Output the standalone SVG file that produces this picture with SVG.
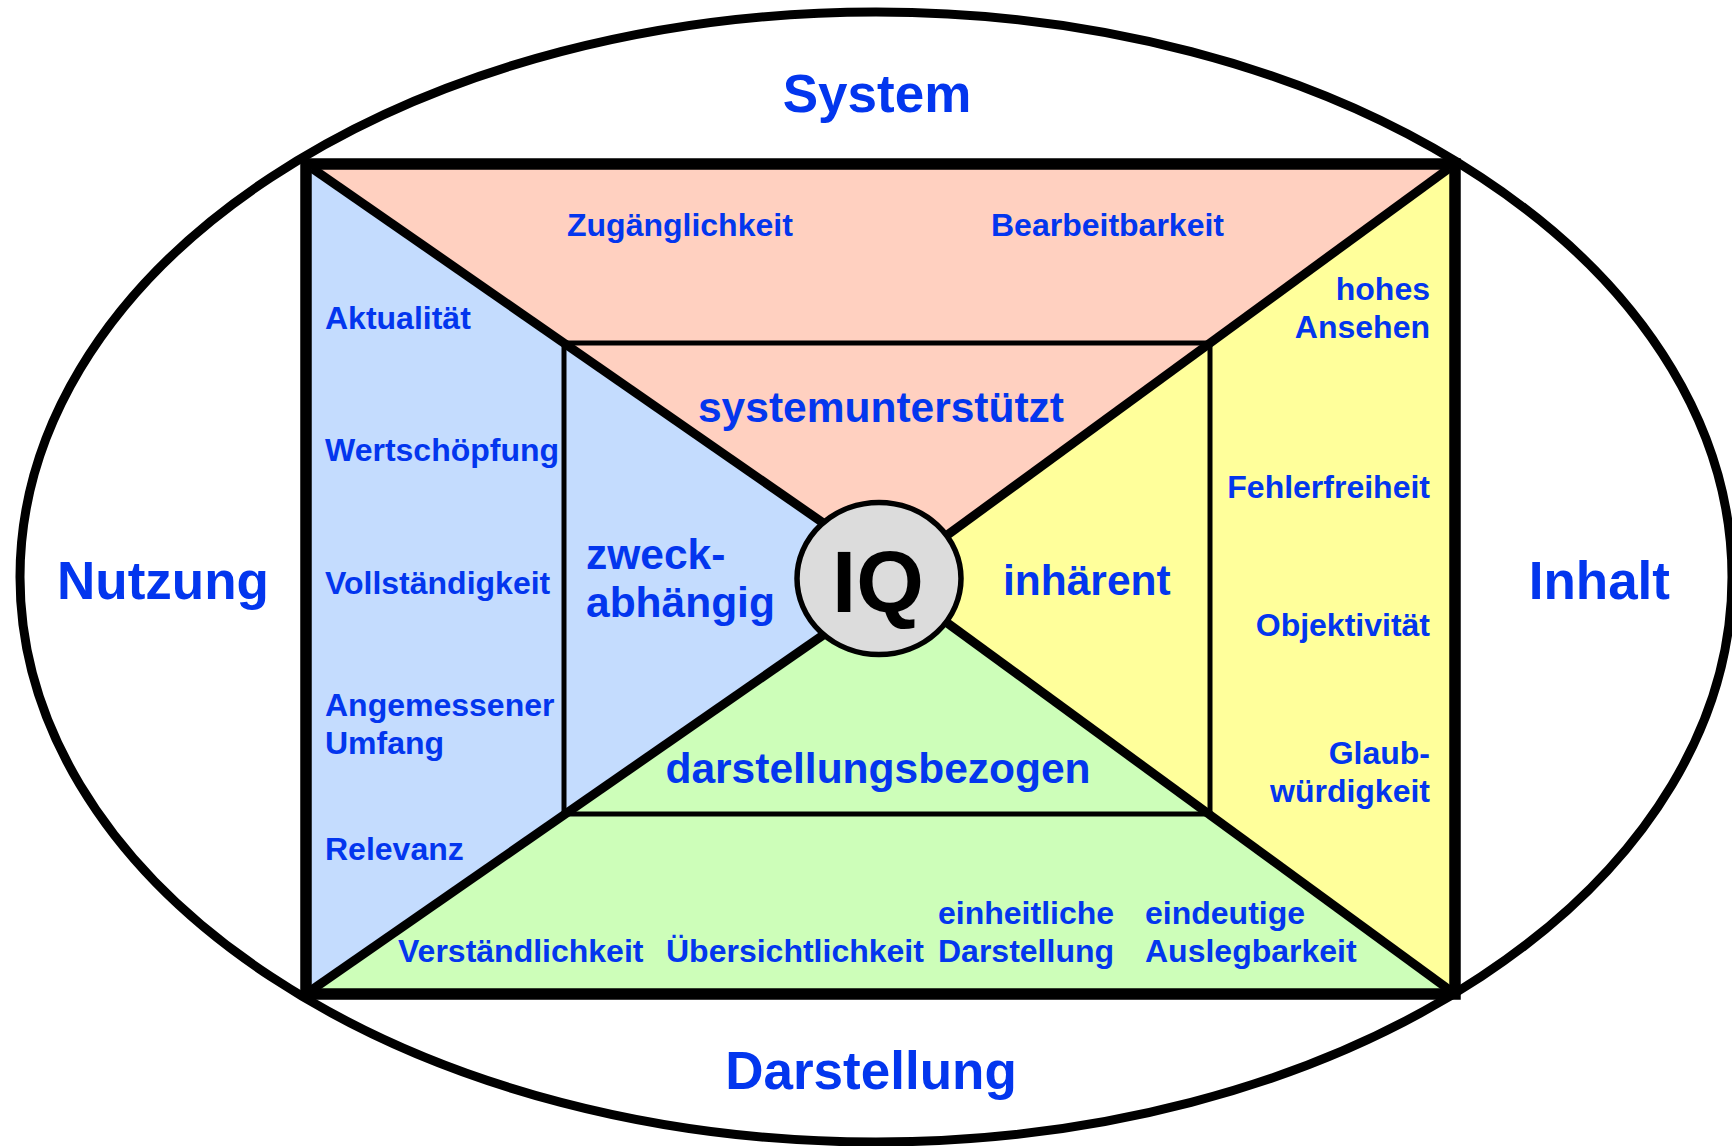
<svg xmlns="http://www.w3.org/2000/svg" width="1732" height="1146" viewBox="0 0 1732 1146">
<style>
text{font-family:"Liberation Sans",Arial,sans-serif;font-weight:bold;fill:#0336ee}
.big{font-size:53px}
.cat{font-size:42.5px}
.sm{font-size:32px}
.end{text-anchor:end}
.mid{text-anchor:middle}
.thick{stroke:#000;stroke-width:9;stroke-linecap:butt;fill:none}
.thin{stroke:#000;stroke-width:5;fill:none}
</style>
<rect width="1732" height="1146" fill="#fff"/>
<g id="outer-ellipse">
<ellipse cx="876" cy="577" rx="856" ry="565" fill="#fff" stroke="#000" stroke-width="9"/>
</g>
<g id="region-system">
<polygon points="306,164 1455,164 895.3,573" fill="#ffd0c0"/>
</g>
<g id="region-nutzung">
<polygon points="306,164 904,579 306,994" fill="#c4dcfe"/>
</g>
<g id="region-inhalt">
<polygon points="1455,164 887,579 1455,994" fill="#ffff9b"/>
</g>
<g id="region-darstellung">
<polygon points="306,994 895.3,585 1455,994" fill="#cdfeb9"/>
</g>
<g id="inner-frame">
<rect x="564" y="343" width="646" height="471" class="thin"/>
</g>
<g id="connectors">
<line x1="312" y1="168.2" x2="895.3" y2="573" class="thick"/>
<line x1="1449" y1="168.4" x2="895.3" y2="573" class="thick"/>
<line x1="312" y1="989.8" x2="895.3" y2="585" class="thick"/>
<line x1="1449" y1="989.6" x2="895.3" y2="585" class="thick"/>
</g>
<g id="outer-frame">
<rect x="306" y="164" width="1149" height="830" fill="none" stroke="#000" stroke-width="11.5"/>
</g>
<g id="node-iq">
<ellipse cx="879" cy="578.5" rx="82" ry="76" fill="#dcdcdc" stroke="#000" stroke-width="5.5"/>
<text x="878" y="612" class="mid" style="font-size:87px;fill:#000">IQ</text>
</g>
<g id="label-system"><text x="877" y="112" class="big mid">System</text></g>
<g id="label-nutzung"><text x="57" y="599" class="big">Nutzung</text></g>
<g id="label-inhalt"><text x="1670" y="599" class="big end">Inhalt</text></g>
<g id="label-darstellung"><text x="871" y="1089" class="big mid">Darstellung</text></g>
<g id="cat-systemunterstuetzt"><text x="881" y="422" class="cat mid">systemunterstützt</text></g>
<g id="cat-zweckabhaengig"><text x="586" y="569" class="cat">zweck-</text><text x="586" y="617" class="cat">abhängig</text></g>
<g id="cat-inhaerent"><text x="1003" y="595" class="cat">inhärent</text></g>
<g id="cat-darstellungsbezogen"><text x="878" y="783" class="cat mid">darstellungsbezogen</text></g>
<g id="item-zugaenglichkeit"><text x="567" y="236" class="sm">Zugänglichkeit</text></g>
<g id="item-bearbeitbarkeit"><text x="991" y="236" class="sm">Bearbeitbarkeit</text></g>
<g id="item-aktualitaet"><text x="325" y="329" class="sm">Aktualität</text></g>
<g id="item-wertschoepfung"><text x="325" y="461" class="sm">Wertschöpfung</text></g>
<g id="item-vollstaendigkeit"><text x="325" y="594" class="sm">Vollständigkeit</text></g>
<g id="item-umfang"><text x="325" y="716" class="sm">Angemessener</text><text x="325" y="754" class="sm">Umfang</text></g>
<g id="item-relevanz"><text x="325" y="860" class="sm">Relevanz</text></g>
<g id="item-ansehen"><text x="1430" y="300" class="sm end">hohes</text><text x="1430" y="338" class="sm end">Ansehen</text></g>
<g id="item-fehlerfreiheit"><text x="1430" y="498" class="sm end">Fehlerfreiheit</text></g>
<g id="item-objektivitaet"><text x="1430" y="636" class="sm end">Objektivität</text></g>
<g id="item-glaubwuerdigkeit"><text x="1430" y="764" class="sm end">Glaub-</text><text x="1430" y="802" class="sm end">würdigkeit</text></g>
<g id="item-verstaendlichkeit"><text x="398" y="962" class="sm">Verständlichkeit</text></g>
<g id="item-uebersichtlichkeit"><text x="666" y="962" class="sm">Übersichtlichkeit</text></g>
<g id="item-einheitliche"><text x="938" y="924" class="sm">einheitliche</text><text x="938" y="962" class="sm">Darstellung</text></g>
<g id="item-eindeutige"><text x="1145" y="924" class="sm">eindeutige</text><text x="1145" y="962" class="sm">Auslegbarkeit</text></g>
</svg>
